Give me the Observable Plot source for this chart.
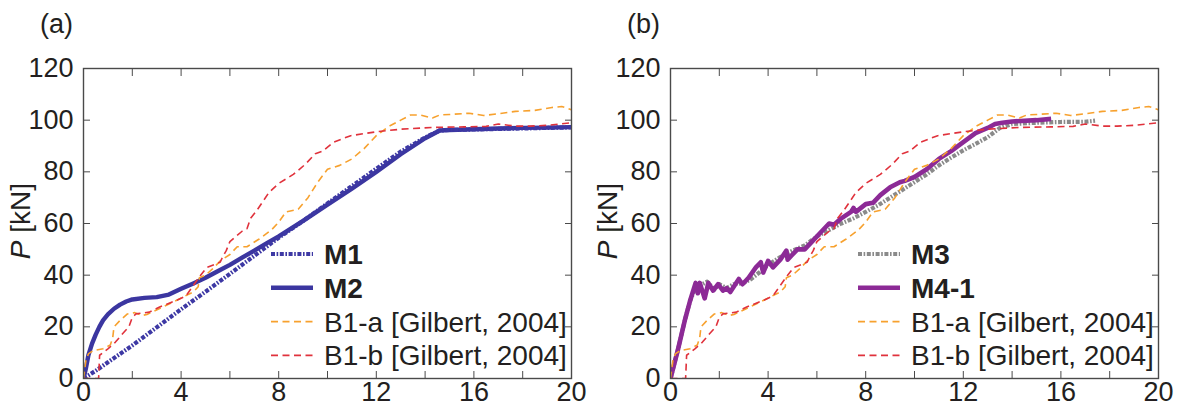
<!DOCTYPE html>
<html>
<head>
<meta charset="utf-8">
<script src="https://cdn.jsdelivr.net/npm/d3@7"></script>
<script src="https://cdn.jsdelivr.net/npm/@observablehq/plot@0.6"></script>
<style>
  html, body { margin: 0; padding: 0; background: #fff; }
  #wrap { position: relative; width: 1177px; height: 408px; overflow: hidden; }
  #wrap > svg { position: absolute; top: 0; }
</style>
</head>
<body>
<div id="wrap"></div>
<script>
// ---------- data ----------
const xTicks = [0, 4, 8, 12, 16, 20];
const xMinor = [0, 2, 4, 6, 8, 10, 12, 14, 16, 18, 20];
const yTicks = [0, 20, 40, 60, 80, 100, 120];

// Panel (a)
const m1X = [0, 0.5, 1, 2, 3, 4, 5, 6, 7, 8, 9, 10, 11, 12, 13, 14, 14.6, 15, 16, 17, 18, 19, 20];
const m1Y = [0, 3, 6.3, 12.8, 19.8, 26.8, 33.6, 40.5, 47.5, 54.5, 61, 67.8, 74.5, 81.2, 87.8, 93.3, 96, 96.2, 96.4, 96.6, 96.8, 97, 97.2];

const m2X = [0, 0.1, 0.2, 0.35, 0.5, 0.65, 0.8, 1, 1.25, 1.5, 1.75, 2, 2.5, 3, 3.5, 4, 4.5, 5, 5.5, 6, 6.5, 7, 7.5, 8, 9, 10, 11, 12, 13, 14, 14.6, 15, 16, 17, 18, 19, 20];
const m2Y = [0, 4, 9, 13.5, 17, 20, 22.5, 24.8, 27, 28.6, 29.8, 30.6, 31.2, 31.5, 32.5, 34.7, 36.8, 39, 41.5, 44, 46.8, 49.5, 52.3, 55, 61, 67.3, 73.5, 80, 86.8, 93, 96, 96.2, 96.5, 96.8, 97, 97.1, 97.3];

const b1aX = [0, 0.1, 0.2, 0.4, 0.8, 1.1, 1.2, 1.25, 1.5, 1.8, 2.1, 2.4, 2.6, 3.1, 3.8, 4.5, 4.7, 4.75, 5.0, 5.3, 5.6, 6.0, 6.3, 6.7, 7.2, 7.7, 8.0, 8.3, 8.8, 9.2, 9.6, 10.0, 10.5, 11.0, 11.5, 12.0, 12.5, 13.0, 13.4, 13.8, 14.3, 14.6, 15.0, 15.8, 16.4, 17.0, 17.7, 18.5, 19.2, 19.6, 20.0];
const b1aY = [0, 7, 9.5, 10.8, 11.5, 13, 16, 20, 22.5, 25, 25.5, 24.4, 24.8, 27, 30.2, 33.5, 35.5, 39, 40, 42.5, 45.5, 48, 51, 51, 54, 57.5, 60.5, 64.5, 65.5, 70, 76, 81, 82.5, 85, 89, 94, 97.5, 100, 102, 102, 100.8, 102, 102.2, 102.7, 101.8, 102.5, 103.4, 103.8, 104.9, 105.3, 104];

const b1bX = [0, 0.3, 0.62, 0.66, 0.8, 1.0, 1.3, 1.6, 1.86, 2.0, 2.15, 2.7, 3.1, 3.8, 4.2, 4.5, 4.8, 5.05, 5.6, 5.7, 5.85, 6.0, 6.5, 6.7, 6.85, 7.1, 7.6, 8.0, 8.6, 9.1, 9.5, 9.8, 10.25, 10.95, 12.0, 13.0, 14.3, 15.6, 16.5, 17.0, 17.7, 18.3, 19.0, 20.0];
const b1bY = [0, 0, 0, 9, 10, 11.5, 14, 17.3, 20, 23.7, 25, 25.7, 27.6, 30.2, 32, 36, 40, 43, 45, 47, 49.5, 53, 57, 58, 62, 65, 72, 75.5, 79, 83, 87, 88, 91.5, 94, 95.5, 96.5, 97.2, 97.4, 97.6, 98.5, 97.7, 97.7, 98, 99];

// Panel (b)
const m3X = [0, 0.3, 0.6, 0.8, 1.0, 1.2, 1.5, 1.8, 2.0, 2.3, 2.6, 3.0, 3.3, 3.7, 4.0, 4.5, 5.0, 5.5, 6.0, 6.5, 7.0, 7.5, 8.0, 8.5, 9.0, 9.5, 10.0, 10.5, 11.0, 11.5, 12.0, 12.5, 13.0, 13.5, 14.0, 15.0, 16.0, 17.0, 17.4];
const m3Y = [0, 11, 23, 30, 34.5, 36, 37.5, 34.5, 36.5, 35, 36.5, 37, 38.5, 41.5, 44, 47, 49.5, 51.5, 55, 57.5, 60, 62, 64.5, 67, 70, 73, 76, 79, 82.5, 85.5, 88.3, 90.8, 93.4, 97, 98.5, 99, 99.3, 99.4, 99.8];

const m41X = [0, 0.3, 0.6, 0.8, 1.03, 1.12, 1.2, 1.4, 1.55, 1.75, 1.95, 2.15, 2.3, 2.45, 2.8, 2.95, 3.2, 3.5, 3.7, 3.8, 4.0, 4.2, 4.5, 4.75, 4.8, 5.0, 5.2, 5.5, 5.8, 6.2, 6.5, 6.7, 7.0, 7.4, 7.5, 7.6, 8.0, 8.3, 8.6, 9.0, 9.4, 9.6, 10.0, 10.5, 11, 11.5, 12, 12.5, 13, 13.3, 13.6, 14, 15, 15.6];
const m41Y = [0, 11, 23, 30, 37, 33, 37, 31, 37, 34, 36.5, 34, 35, 33.5, 38.5, 36.5, 39, 43, 45, 41, 45.5, 43, 46, 49.5, 46, 48, 50, 50, 53, 57, 60, 59.5, 62, 64.5, 66, 64.5, 67.5, 68, 71, 74, 76, 76.5, 78, 81, 85, 88, 91.5, 95, 97, 98.5, 99, 99.5, 100, 100.5];

const namesA = ["M1", "M2", "B1-a [Gilbert, 2004]", "B1-b [Gilbert, 2004]"];
const namesB = ["M3", "M4-1", "B1-a [Gilbert, 2004]", "B1-b [Gilbert, 2004]"];

// ---------- styles ----------
const FONT = "'Liberation Sans', Arial, Helvetica, sans-serif";
const FS = 27;
const styleOf = {
  "M1":   {stroke: "#3d38a4", strokeWidth: 4.2, strokeDasharray: "4,1.6,1.6,1.6", bold: true},
  "M2":   {stroke: "#3b36a0", strokeWidth: 4.4, strokeDasharray: null, bold: true},
  "M3":   {stroke: "#8a8a8a", strokeWidth: 4.2, strokeDasharray: "4,1.6,1.6,1.6", bold: true},
  "M4-1": {stroke: "#8c2a96", strokeWidth: 4.6, strokeDasharray: null, bold: true},
  "B1-a [Gilbert, 2004]": {stroke: "#f7a12e", strokeWidth: 1.6, strokeDasharray: "7,4.5", bold: false},
  "B1-b [Gilbert, 2004]": {stroke: "#e0323c", strokeWidth: 1.6, strokeDasharray: "7,4.5", bold: false}
};

const zip = (xs, ys) => xs.map((x, i) => ({x, y: ys[i]}));

function lineMark(name, xs, ys) {
  const s = styleOf[name];
  return Plot.line(zip(xs, ys), {
    x: "x", y: "y", stroke: s.stroke, strokeWidth: s.strokeWidth,
    strokeDasharray: s.strokeDasharray, strokeLinejoin: "round",
    strokeLinecap: "butt", clip: true
  });
}

function panel({ml, mr, tag, series, names}) {
  const svg = Plot.plot({
    width: 588, height: 408,
    marginLeft: ml, marginRight: mr, marginTop: 68, marginBottom: 30,
    x: {domain: [0, 20]},
    y: {domain: [0, 120]},
    style: {fontFamily: FONT, fontSize: FS + "px", color: "#231f20", background: "transparent", overflow: "visible"},
    marks: [
      ...series,
      Plot.frame({stroke: "#4a4a4a", strokeWidth: 1.4}),
      Plot.axisX({ticks: xMinor, tickSize: -7, tickFormat: () => "", stroke: "#4a4a4a", label: null}),
      Plot.axisX({anchor: "top", ticks: xMinor, tickSize: -7, tickFormat: () => "", stroke: "#4a4a4a", label: null}),
      Plot.axisX({ticks: xTicks, tickSize: 0, tickPadding: 3, tickFormat: d => String(d), fontSize: FS, fill: "#231f20", label: null}),
      Plot.axisY({ticks: yTicks, tickSize: -7, tickFormat: () => "", stroke: "#4a4a4a", label: null}),
      Plot.axisY({anchor: "right", ticks: yTicks, tickSize: -7, tickFormat: () => "", stroke: "#4a4a4a", label: null}),
      Plot.axisY({ticks: yTicks, tickSize: 0, tickPadding: 10, tickFormat: d => String(d), fontSize: FS, fill: "#231f20", label: null})
    ]
  });
  const s = d3.select(svg);
  // panel tag
  s.append("text").attr("x", ml - 43).attr("y", 33).attr("font-size", FS)
    .attr("text-anchor", "start")
    .attr("font-family", FONT).attr("fill", "#231f20").text(tag);
  // y label
  const yl = s.append("text").attr("transform", `translate(${ml - 53},221) rotate(-90)`)
    .attr("text-anchor", "middle").attr("font-size", 28).attr("font-family", FONT).attr("fill", "#231f20");
  yl.append("tspan").attr("font-style", "italic").text("P");
  yl.append("tspan").text(" [kN]");
  // legend
  const lx0 = ml + 188, lx1 = ml + 230, tx = ml + 241;
  names.forEach((n, i) => {
    const st = styleOf[n];
    const cy = 254 + i * 33.8;
    s.append("line").attr("x1", lx0).attr("x2", lx1).attr("y1", cy).attr("y2", cy)
      .attr("stroke", st.stroke).attr("stroke-width", st.strokeWidth)
      .attr("stroke-dasharray", st.strokeDasharray);
    s.append("text").attr("x", tx).attr("y", cy).attr("dy", "0.36em")
      .attr("text-anchor", "start")
      .attr("font-size", 28).attr("font-family", FONT).attr("fill", "#231f20")
      .attr("font-weight", st.bold ? "bold" : "normal").text(n);
  });
  return svg;
}

const wrap = document.getElementById("wrap");
const svgA = panel({
  ml: 83, mr: 17, tag: "(a)", names: namesA,
  series: [lineMark("M2", m2X, m2Y), lineMark("M1", m1X, m1Y),
           lineMark(namesA[2], b1aX, b1aY), lineMark(namesA[3], b1bX, b1bY)]
});
const svgB = panel({
  ml: 81, mr: 19, tag: "(b)", names: namesB,
  series: [lineMark("M3", m3X, m3Y), lineMark("M4-1", m41X, m41Y),
           lineMark(namesB[2], b1aX, b1aY), lineMark(namesB[3], b1bX, b1bY)]
});
svgA.style.left = "0px";
svgB.style.left = "589px";
wrap.appendChild(svgA);
wrap.appendChild(svgB);
</script>
</body>
</html>
